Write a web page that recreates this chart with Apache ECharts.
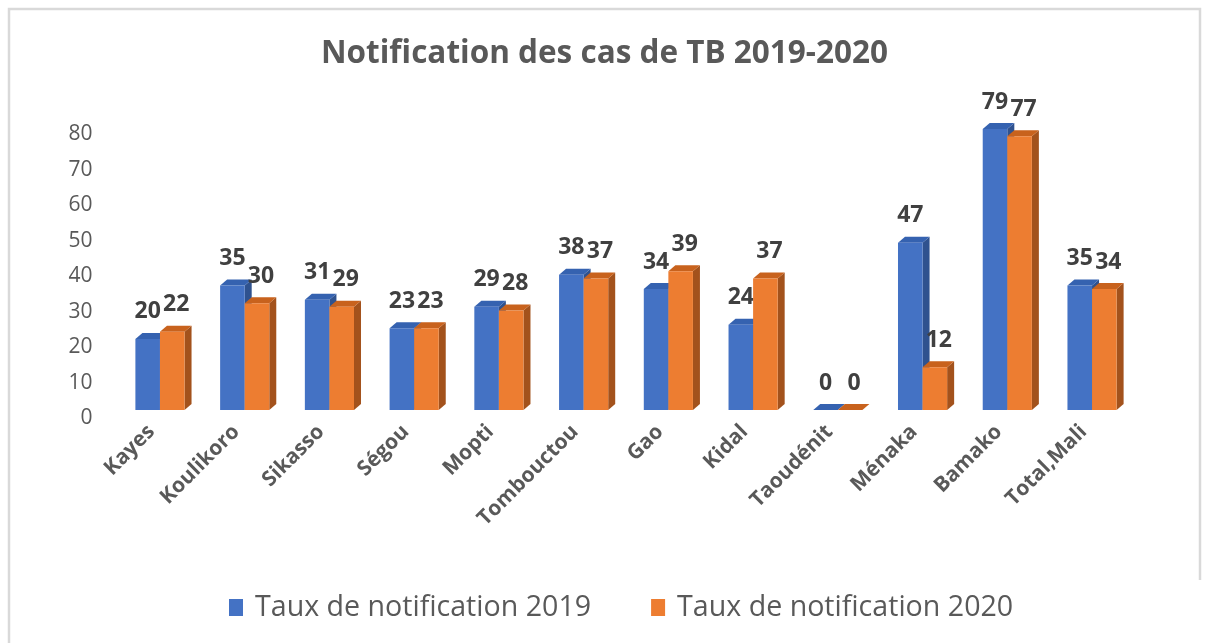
<!DOCTYPE html>
<html>
<head>
<meta charset="utf-8">
<title>Notification des cas de TB 2019-2020</title>
<script src="https://cdn.jsdelivr.net/npm/echarts@6/dist/echarts.min.js"></script>
<style>
    html, body { margin: 0; padding: 0; background: #fff; }
    #chart { width: 1209px; height: 643px; }
</style>
</head>
<body>
<div id="chart"></div>
<script>
// regions
var regions = ['Kayes', 'Koulikoro', 'Sikasso', 'Ségou', 'Mopti', 'Tombouctou', 'Gao', 'Kidal', 'Taoudénit', 'Ménaka', 'Bamako', 'Total,Mali'];
// taux de notification
var taux2019 = [20, 35, 31, 23, 29, 38, 34, 24, 0, 47, 79, 35];
var taux2020 = [22, 30, 29, 23, 28, 37, 39, 37, 0, 12, 77, 34];
var yTicks = [0, 10, 20, 30, 40, 50, 60, 70, 80];

var font = "'Open Sans', sans-serif";
var textGrey = '#595959';

var chart = echarts.init(document.getElementById('chart'));

// fake 3d column: front face + right side + top
function bar3d(side, sideColor, topColor) {
    return function (params, api) {
        var idx = api.value(0);
        var val = api.value(1);
        var base = api.coord([idx, 0]);
        var top = api.coord([idx, val]);
        var band = api.size([1, 0])[0];
        var w = band * 0.29;
        var dx = 7, dy = -6;
        var x0 = side < 0 ? base[0] - w : base[0];
        var x1 = x0 + w;
        var yt = top[1], yb = base[1];
        return {
            type: 'group',
            children: [
                {
                    type: 'polygon',
                    shape: { points: [[x1, yt], [x1 + dx, yt + dy], [x1 + dx, yb + dy], [x1, yb]] },
                    style: { fill: sideColor }
                },
                {
                    type: 'polygon',
                    shape: { points: [[x0, yt], [x0 + dx, yt + dy], [x1 + dx, yt + dy], [x1, yt]] },
                    style: { fill: topColor }
                },
                {
                    type: 'rect',
                    shape: { x: x0, y: yt, width: w, height: yb - yt },
                    style: { fill: api.visual('color') }
                },
                {
                    type: 'text',
                    x: x0 + w / 2 + (side < 0 ? 0 : 4),
                    y: yt - 27,
                    style: {
                        text: String(val),
                        align: 'center',
                        verticalAlign: 'middle',
                        fill: '#404040',
                        font: 'bold 23px ' + font
                    }
                }
            ]
        };
    };
}

var option = {
    animation: false,
    backgroundColor: '#fff',
    title: {
        text: 'Notification des cas de TB 2019-2020',
        left: 'center',
        top: 33,
        textStyle: { fontFamily: font, fontSize: 31.5, fontWeight: 'bold', color: textGrey }
    },
    graphic: [{
        type: 'polyline',
        shape: { points: [[9, 643], [9, 9], [1200, 9], [1200, 580]] },
        style: { stroke: '#d9d9d9', lineWidth: 2.5, fill: null }
    }],
    legend: {
        left: 224,
        top: 588,
        icon: 'rect',
        itemWidth: 14,
        itemHeight: 17,
        itemGap: 60,
        textStyle: { fontFamily: font, fontSize: 28.6, color: textGrey, padding: [0, 0, 0, 7] },
        data: ['Taux de notification 2019', 'Taux de notification 2020']
    },
    grid: { left: 117.6, right: 74.6, top: 125.5, bottom: 233 },
    xAxis: {
        type: 'category',
        data: regions,
        axisLine: { show: false },
        axisTick: { show: false },
        axisLabel: {
            rotate: 45,
            margin: 10,
            interval: 0,
            padding: [0, 12, 0, 0],
            fontFamily: font,
            fontSize: 21,
            fontWeight: 'bold',
            color: textGrey
        }
    },
    yAxis: {
        type: 'value',
        min: yTicks[0],
        max: yTicks[yTicks.length - 1],
        interval: 10,
        splitLine: { show: false },
        axisLine: { show: false },
        axisTick: { show: false },
        axisLabel: {
            margin: 25,
            fontFamily: font,
            fontSize: 21,
            color: textGrey,
            verticalAlign: 'top',
            lineHeight: 17
        }
    },
    series: [
        {
            name: 'Taux de notification 2019',
            type: 'custom',
            itemStyle: { color: '#4472C4' },
            renderItem: bar3d(-1, '#2F528F', '#3562B0'),
            encode: { x: 0, y: 1 },
            data: taux2019.map(function (v, i) { return [i, v]; })
        },
        {
            name: 'Taux de notification 2020',
            type: 'custom',
            itemStyle: { color: '#ED7D31' },
            renderItem: bar3d(1, '#A3521C', '#C8621D'),
            encode: { x: 0, y: 1 },
            data: taux2020.map(function (v, i) { return [i, v]; })
        }
    ]
};

chart.setOption(option);
</script>
</body>
</html>
